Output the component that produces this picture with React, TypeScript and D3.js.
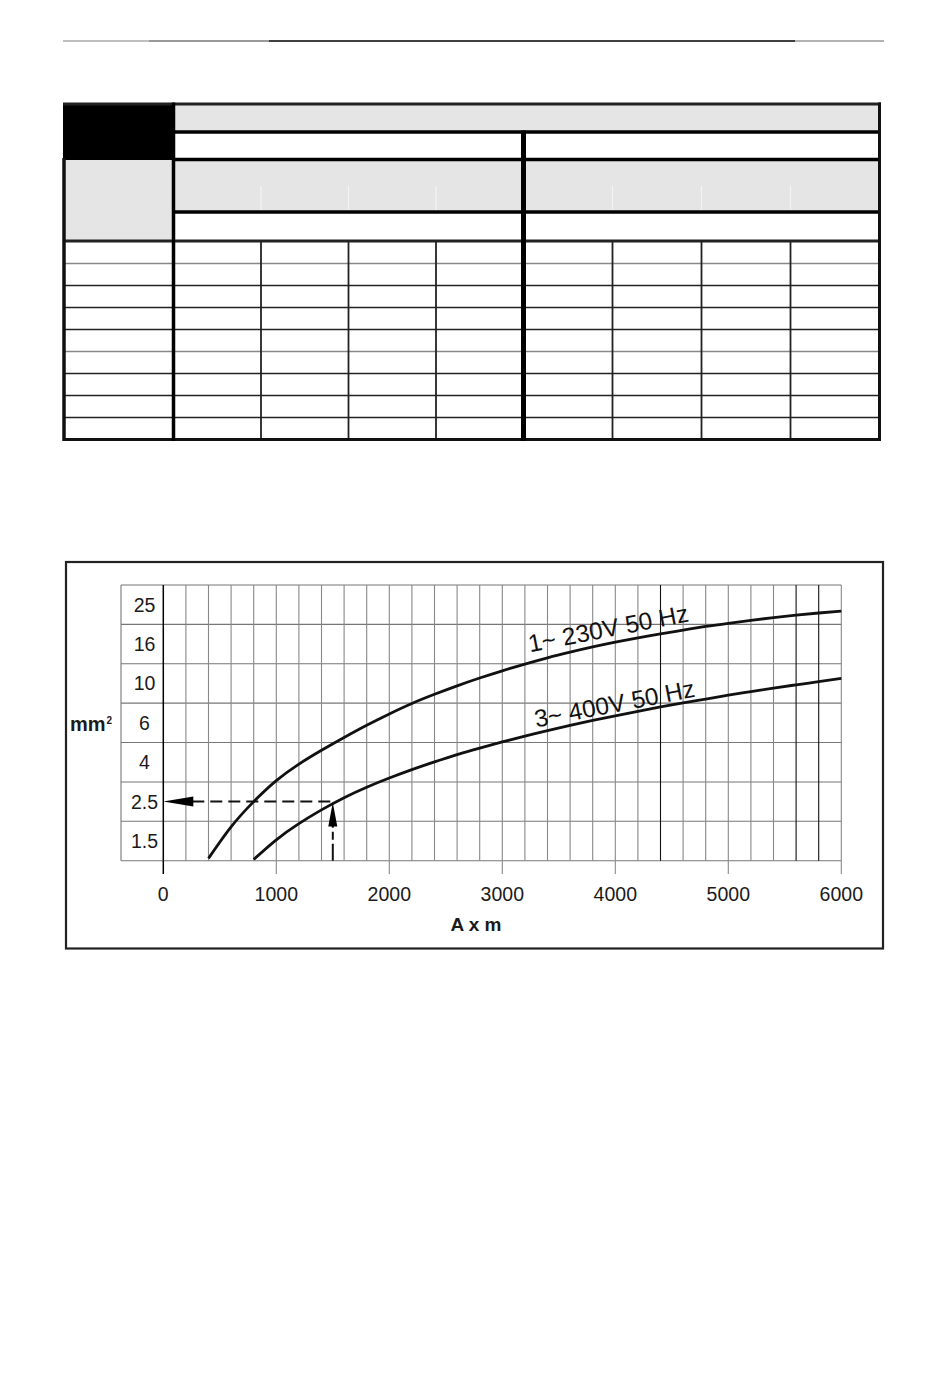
import React, { useEffect, useRef } from 'react';
import * as d3 from 'd3';

// cross-section steps on the left axis (mm²), bottom to top
const sections = [1.5, 2.5, 4, 6, 10, 16, 25];
const xTicks = [0, 1000, 2000, 3000, 4000, 5000, 6000];
// grid lines that print darker on the sheet
const darkLines = [4400, 5600, 5800];

// 1~ 230V 50 Hz
const am230 = [400, 600, 800, 1000, 1200, 1400, 1600, 1800, 2000, 2200, 2400, 2600, 2800, 3000, 3200, 3400, 3600, 3800, 4000, 4200, 4400, 4600, 4800, 5000, 5200, 5400, 5600, 5800, 6000];
const mm230 = [1.06, 1.86, 2.5, 3.3, 3.93, 4.61, 5.26, 5.88, 6.91, 7.97, 8.9, 9.76, 10.83, 11.93, 12.95, 13.9, 14.76, 15.56, 16.43, 17.44, 18.35, 19.19, 20.02, 20.75, 21.43, 22.05, 22.6, 23.1, 23.51];

// 3~ 400V 50 Hz
const am400 = [800, 1000, 1200, 1400, 1600, 1800, 2000, 2200, 2400, 2600, 2800, 3000, 3200, 3400, 3600, 3800, 4000, 4200, 4400, 4600, 4800, 5000, 5200, 5400, 5600, 5800, 6000];
const mm400 = [1.03, 1.53, 1.94, 2.29, 2.65, 3.05, 3.4, 3.72, 4.02, 4.39, 4.72, 5.03, 5.33, 5.61, 5.87, 6.24, 6.72, 7.17, 7.61, 8.03, 8.42, 8.81, 9.17, 9.53, 9.86, 10.28, 10.76];

const seriesLabels = ['1~ 230V 50 Hz', '3~ 400V 50 Hz'];
// where the labels sit, in A x m / mm²
const labelAm = [3245, 3300];
const labelMm = [14.75, 5.76];

// worked example: 1500 A x m on the 400V line -> 2.5 mm²
const exampleAm = 1500;
const exampleMm = 2.5;

// the table above the chart is an empty form
const tableBodyRows = 9;
const tableGroupCols = 4;

const FONT = "'Liberation Sans', Arial, sans-serif";

const App: React.FC = () => {
  const svgRef = useRef<SVGSVGElement | null>(null);

  useEffect(() => {
    if (!svgRef.current) return;
    const svg = d3.select(svgRef.current);
    svg.selectAll('*').remove();

    const line = (g: any, x1: number, y1: number, x2: number, y2: number, w: number, c: string) =>
      g.append('line')
        .attr('x1', x1).attr('y1', y1).attr('x2', x2).attr('y2', y2)
        .attr('stroke', c).attr('stroke-width', w);

    // page header rule
    const rule: [number, number, string][] = [[63, 149, '#aaa'], [149, 269, '#777'], [269, 795, '#000'], [795, 884, '#999']];
    rule.forEach(([a, b, c]) => line(svg, a, 41, b, 41, 1.3, c));

    // ---- table ----
    const t = svg.append('g');
    const left = 63, right = 879.5, colX = 173.5, midX = 523.5, bottom = 439.5;
    const gray = '#e5e5e5';

    t.append('rect').attr('x', left).attr('y', 103).attr('width', colX - left).attr('height', 57).attr('fill', '#000');
    t.append('rect').attr('x', colX).attr('y', 104).attr('width', right - colX).attr('height', 27).attr('fill', gray);
    t.append('rect').attr('x', left).attr('y', 160).attr('width', colX - left).attr('height', 81).attr('fill', gray);
    t.append('rect').attr('x', colX).attr('y', 160).attr('width', right - colX).attr('height', 51).attr('fill', gray);

    const colsL = d3.scaleBand<number>().domain(d3.range(tableGroupCols)).range([colX, midX]);
    const colsR = d3.scaleBand<number>().domain(d3.range(tableGroupCols)).range([midX, right]);
    const rows = d3.scaleBand<number>().domain(d3.range(tableBodyRows)).range([241.5, bottom]);

    const inner = [...d3.range(1, tableGroupCols).map(i => colsL(i)!), ...d3.range(1, tableGroupCols).map(i => colsR(i)!)];
    // faint splits inside the grey header row
    inner.forEach(cx => line(t, cx, 186, cx, 210, 1.2, '#f3f3f3'));
    // body grid
    d3.range(1, tableBodyRows).forEach(i => line(t, left, rows(i)!, right, rows(i)!, 1.7, i % 4 === 1 ? '#888' : '#222'));
    inner.forEach(cx => line(t, cx, 241, cx, bottom, 1.8, '#222'));

    line(t, left, 104, right + 1.5, 104, 3, '#222');
    line(t, colX, 132, right, 132, 3.5, '#000');
    line(t, colX, 159.5, right, 159.5, 3.5, '#000');
    line(t, colX, 212, right, 212, 3.5, '#000');
    line(t, left, 241, right, 241, 3, '#222');
    line(t, left, bottom, right + 1.5, bottom, 3, '#111');
    line(t, left + 1, 158, left + 1, bottom + 1.5, 3.5, '#111');
    line(t, right, 102.5, right, bottom + 1.5, 3, '#111');
    line(t, colX, 102.5, colX, bottom + 1.5, 3.5, '#000');
    line(t, midX, 130.5, midX, bottom + 1.5, 5, '#000');

    // ---- chart ----
    const c = svg.append('g');
    c.append('rect')
      .attr('x', 66).attr('y', 562).attr('width', 817).attr('height', 386.5)
      .attr('fill', 'none').attr('stroke', '#222').attr('stroke-width', 2.2);

    const gridLeft = 121, gridTop = 585, gridBottom = 860.7;
    const x = d3.scaleLinear().domain([0, 6000]).range([163.3, 841.3]);
    const band = d3.scaleBand<number>().domain(sections).range([gridBottom, gridTop]);
    const y = d3.scaleLinear()
      .domain(sections)
      .range(sections.map(s => band(s)! + band.bandwidth() / 2));

    // horizontal band lines
    const hs = [...sections.map(s => band(s)!), gridBottom];
    hs.forEach(hy => line(c, gridLeft, hy, x(6000), hy, 1.1, '#777'));
    line(c, gridLeft, gridTop, gridLeft, gridBottom, 1.1, '#777');

    // vertical grid every 200 A x m
    x.ticks(30).forEach(v => {
      const dark = darkLines.includes(v);
      const col = v === 0 ? '#000' : dark ? '#111' : '#888';
      line(c, x(v), gridTop, x(v), gridBottom, v === 0 ? 1.5 : 1.1, col);
    });
    // ticks below the grid
    xTicks.forEach(v => line(c, x(v), gridBottom, x(v), 874, v === 0 ? 1.5 : 1.1, v === 0 ? '#000' : '#888'));

    // y labels inside the label column
    c.append('g').selectAll('text').data(sections).join('text')
      .attr('x', 144.5)
      .attr('y', d => band(d)! + band.bandwidth() / 2 + 7)
      .attr('text-anchor', 'middle')
      .attr('font-family', FONT).attr('font-size', 19.5).attr('fill', '#1a1a1a')
      .text(d => String(d));

    // x labels
    c.append('g').selectAll('text').data(xTicks).join('text')
      .attr('x', d => x(d))
      .attr('y', 901)
      .attr('text-anchor', 'middle')
      .attr('font-family', FONT).attr('font-size', 19.5).attr('fill', '#1a1a1a')
      .text(d => String(d));

    const unit = c.append('text')
      .attr('x', 70).attr('y', 731)
      .attr('font-family', FONT).attr('font-size', 20).attr('font-weight', 'bold').attr('fill', '#1a1a1a');
    unit.append('tspan').text('mm');
    unit.append('tspan').attr('font-size', 10).attr('dx', 1).attr('dy', -7.5).text('2');

    c.append('text')
      .attr('x', 476).attr('y', 931)
      .attr('text-anchor', 'middle')
      .attr('font-family', FONT).attr('font-size', 19).attr('font-weight', 'bold').attr('fill', '#1a1a1a')
      .text('A x m');

    // curves
    const curve = d3.line<[number, number]>()
      .x(d => x(d[0]))
      .y(d => y(d[1]))
      .curve(d3.curveNatural);
    [d3.zip(am230, mm230), d3.zip(am400, mm400)].forEach(pts => {
      c.append('path')
        .attr('d', curve(pts as [number, number][]))
        .attr('fill', 'none').attr('stroke', '#111').attr('stroke-width', 2.8);
    });

    seriesLabels.forEach((s, i) => {
      c.append('text')
        .attr('transform', `translate(${x(labelAm[i])},${y(labelMm[i])}) rotate(-11)`)
        .attr('font-family', FONT).attr('font-size', 24.5).attr('fill', '#111')
        .text(s);
    });

    // worked example arrows
    const ex = x(exampleAm), ey = y(exampleMm), x0 = x(0);
    line(c, x0 + 29, ey, ex, ey, 2, '#111').attr('stroke-dasharray', '12,6');
    c.append('path')
      .attr('d', `M${x0},${ey} L${x0 + 30},${ey - 5} L${x0 + 30},${ey + 5} Z`)
      .attr('fill', '#000');
    line(c, ex, gridBottom, ex, ey + 24, 2, '#111').attr('stroke-dasharray', '17,4,8,4');
    c.append('path')
      .attr('d', `M${ex},${ey + 1} L${ex - 4.5},${ey + 25} L${ex + 4.5},${ey + 25} Z`)
      .attr('fill', '#000');
  }, []);

  return (
    <svg
      ref={svgRef}
      width="950"
      height="1397"
      style={{ position: 'absolute', left: 0, top: 0, display: 'block', background: '#fff' }}
    ></svg>
  );
};

export default App;
